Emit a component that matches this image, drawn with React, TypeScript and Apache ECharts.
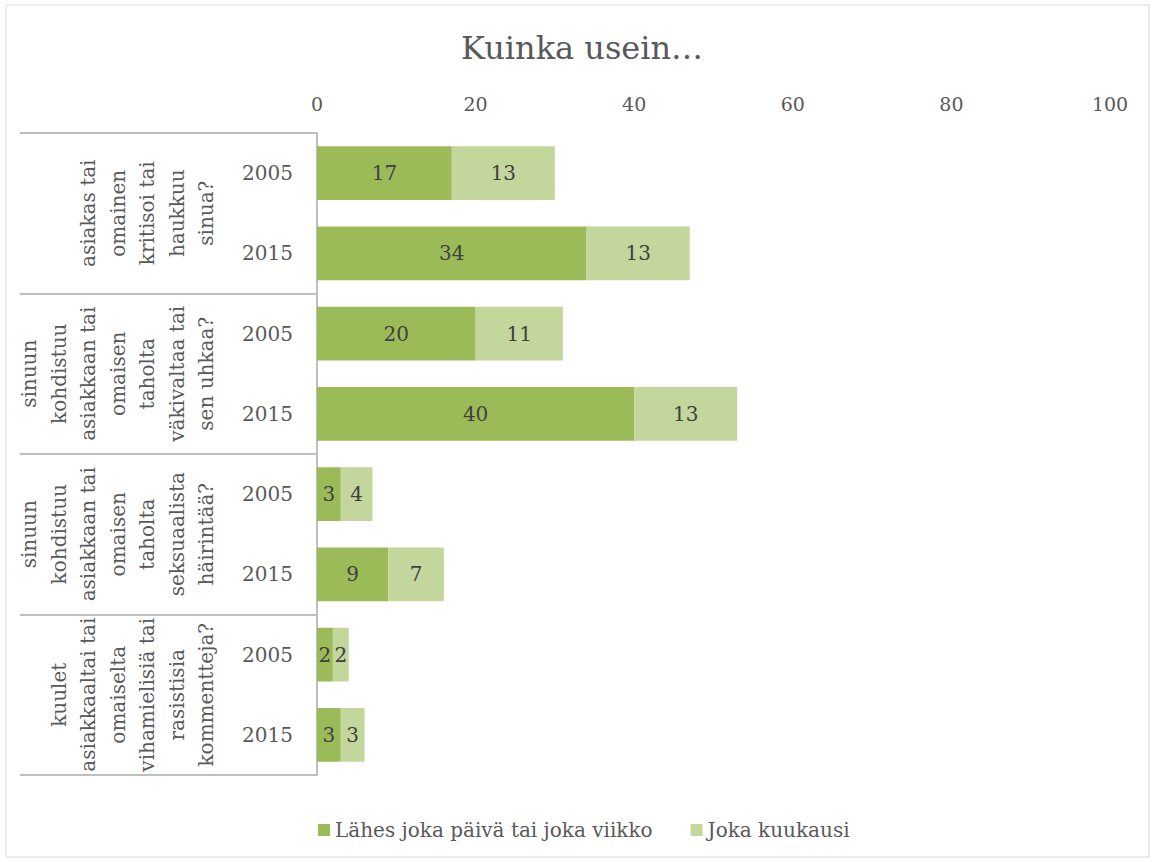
import React, { useEffect, useRef } from "react";
import * as echarts from "echarts";

const titleText = "Kuinka usein…";
const years = ["2005", "2015", "2005", "2015", "2005", "2015", "2005", "2015"];
const groups = [
  "asiakas tai\nomainen\nkritisoi tai\nhaukkuu\nsinua?",
  "sinuun\nkohdistuu\nasiakkaan tai\nomaisen\ntaholta\nväkivaltaa tai\nsen uhkaa?",
  "sinuun\nkohdistuu\nasiakkaan tai\nomaisen\ntaholta\nseksuaalista\nhäirintää?",
  "kuulet\nasiakkaaltai tai\nomaiselta\nvihamielisiä tai\nrasistisia\nkommentteja?",
];
const seriesNames = ["Lähes joka päivä tai joka viikko", "Joka kuukausi"];
const weekly = [17, 34, 20, 40, 3, 9, 2, 3];
const monthly = [13, 13, 11, 13, 4, 7, 2, 3];
const xMin = 0;
const xMax = 100;
const xStep = 20;

const FONT = "DejaVu Serif";
const TEXT = "#595959";
const LINE = "#BFBFBF";

export default function App() {
  const ref = useRef<HTMLDivElement>(null);
  useEffect(() => {
    document.body.style.margin = "0";
    if (!ref.current) return;
    const chart = echarts.init(ref.current, null, { renderer: "svg" });
    chart.setOption({
      animation: false,
      backgroundColor: "#ffffff",
      textStyle: { fontFamily: FONT },
      title: {
        text: titleText,
        left: 456,
        top: 27,
        textStyle: { fontFamily: FONT, fontSize: 32, fontWeight: "normal", color: TEXT },
      },
      legend: {
        top: 815,
        left: 313,
        icon: "rect",
        itemWidth: 12,
        itemHeight: 12,
        itemGap: 38,
        textStyle: { fontFamily: FONT, fontSize: 20, color: TEXT },
        data: seriesNames,
      },
      graphic: [
        {
          type: "rect",
          shape: { x: 6, y: 5, width: 1143, height: 852 },
          style: { fill: "none", stroke: "#D9D9D9", lineWidth: 1 },
          silent: true,
        },
      ],
      grid: { left: 317, right: 43, top: 133, bottom: 87 },
      xAxis: {
        type: "value",
        position: "top",
        min: xMin,
        max: xMax,
        interval: xStep,
        axisLine: { show: false },
        axisTick: { show: false },
        splitLine: { show: false },
        axisLabel: { fontFamily: FONT, fontSize: 19, color: TEXT, margin: 20 },
      },
      yAxis: [
        {
          type: "category",
          data: years,
          inverse: true,
          axisLine: { show: true, lineStyle: { color: LINE, width: 2 } },
          axisTick: { show: false },
          axisLabel: { fontFamily: FONT, fontSize: 20, color: TEXT, margin: 24, interval: 0 },
        },
        {
          type: "category",
          data: groups,
          inverse: true,
          position: "left",
          offset: 0,
          axisLine: { show: false },
          axisTick: { show: true, interval: 0, length: 297, lineStyle: { color: LINE, width: 2 } },
          axisLabel: {
            interval: 0,
            hideOverlap: false,
            rotate: 90,
            margin: 96,
            fontFamily: FONT,
            fontSize: 20,
            lineHeight: 29.5,
            color: TEXT,
            align: "center",
          },
        },
      ],
      series: [
        {
          name: seriesNames[0],
          type: "bar",
          stack: "total",
          barWidth: "67%",
          data: weekly,
          itemStyle: { color: "#9BBB59" },
          label: { show: true, position: "inside", fontFamily: FONT, fontSize: 20, color: "#404040" },
        },
        {
          name: seriesNames[1],
          type: "bar",
          stack: "total",
          barWidth: "67%",
          data: monthly,
          itemStyle: { color: "#C3D69B" },
          label: { show: true, position: "inside", fontFamily: FONT, fontSize: 20, color: "#404040" },
        },
      ],
    });
    return () => chart.dispose();
  }, []);
  return <div ref={ref} style={{ width: 1153, height: 862 }} />;
}
